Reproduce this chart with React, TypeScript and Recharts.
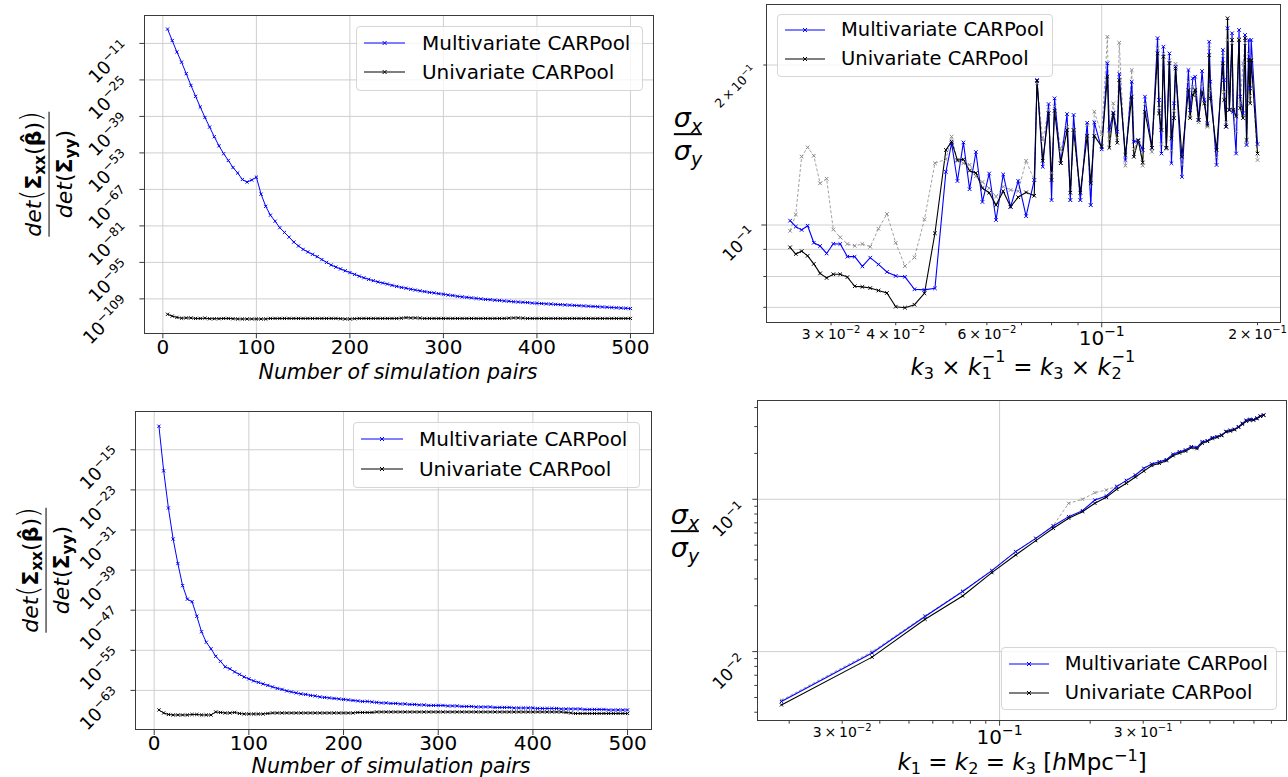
import React from 'react';
import { LineChart, Line, XAxis, YAxis, ReferenceLine } from 'recharts';

const FONT = '"DejaVu Sans", Verdana, sans-serif';
const PAGE_W = 1288;
const PAGE_H = 777;
const BLUE = '#0000ff';
const BLACK = '#000000';
const GRAY = '#8a8a8a';
const GRID = '#cfcfcf';
const SPINE = '#3a3a3a';
const MINUS = '\u2212';

// ---------------- data: left panels (x = number of simulation pairs) ----------------
const simulationPairs = [
  5, 10, 15, 20, 25, 30, 35, 40, 45, 50,
  55, 60, 65, 70, 75, 80, 85, 90, 95, 100,
  105, 110, 115, 120, 125, 130, 135, 140, 145, 150,
  155, 160, 165, 170, 175, 180, 185, 190, 195, 200,
  205, 210, 215, 220, 225, 230, 235, 240, 245, 250,
  255, 260, 265, 270, 275, 280, 285, 290, 295, 300,
  305, 310, 315, 320, 325, 330, 335, 340, 345, 350,
  355, 360, 365, 370, 375, 380, 385, 390, 395, 400,
  405, 410, 415, 420, 425, 430, 435, 440, 445, 450,
  455, 460, 465, 470, 475, 480, 485, 490, 495, 500,
];

// log10 of det ratio, top-left panel
const multiDetTop = [
  -5.5, -9.9, -14.3, -18.2, -22.6, -27.1, -31.3, -35.4, -39.4, -43.1,
  -46.8, -50.3, -53.3, -55.9, -58.6, -60.7, -63.2, -64.2, -63.4, -62.3,
  -68.8, -73.5, -76.9, -79.2, -81.7, -83.5, -85.3, -87.2, -88.7, -90.0,
  -91.0, -91.9, -92.8, -93.9, -95.0, -96.0, -96.8, -97.5, -98.2, -98.9,
  -99.6, -100.3, -100.9, -101.5, -102.0, -102.5, -102.9, -103.3, -103.8, -104.2,
  -104.6, -104.9, -105.3, -105.6, -105.9, -106.2, -106.5, -106.7, -107.0, -107.2,
  -107.5, -107.7, -108.0, -108.2, -108.4, -108.6, -108.8, -109.0, -109.2, -109.3,
  -109.5, -109.6, -109.8, -109.9, -110.1, -110.2, -110.3, -110.4, -110.6, -110.7,
  -110.8, -110.9, -111.0, -111.1, -111.2, -111.3, -111.4, -111.5, -111.6, -111.7,
  -111.8, -111.9, -112.0, -112.1, -112.2, -112.3, -112.4, -112.5, -112.6, -112.7,
];
const uniDetTop = [
  -114.9, -115.6, -116.1, -116.4, -116.3, -116.3, -116.5, -116.5, -116.4, -116.6,
  -116.6, -116.6, -116.5, -116.5, -116.6, -116.7, -116.7, -116.7, -116.7, -116.7,
  -116.7, -116.7, -116.5, -116.5, -116.5, -116.5, -116.5, -116.5, -116.5, -116.5,
  -116.5, -116.5, -116.5, -116.5, -116.5, -116.5, -116.5, -116.6, -116.7, -116.7,
  -116.6, -116.5, -116.5, -116.5, -116.5, -116.5, -116.5, -116.5, -116.5, -116.5,
  -116.4, -116.2, -116.3, -116.3, -116.4, -116.5, -116.5, -116.5, -116.5, -116.5,
  -116.5, -116.5, -116.5, -116.5, -116.5, -116.5, -116.5, -116.5, -116.5, -116.5,
  -116.5, -116.5, -116.5, -116.4, -116.3, -116.3, -116.4, -116.5, -116.5, -116.5,
  -116.5, -116.5, -116.5, -116.5, -116.5, -116.5, -116.5, -116.5, -116.5, -116.5,
  -116.5, -116.5, -116.5, -116.5, -116.5, -116.5, -116.5, -116.5, -116.5, -116.5,
];
const topYTicks = [-109, -95, -81, -67, -53, -39, -25, -11];

// log10 of det ratio, bottom-left panel
const multiDetBottom = [
  -10.3, -19.2, -26.6, -32.8, -37.7, -42.1, -44.8, -45.3, -48.2, -51.3,
  -53.4, -54.7, -56.2, -57.2, -58.3, -58.7, -59.3, -59.8, -60.3, -60.7,
  -61.1, -61.4, -61.7, -62.0, -62.3, -62.6, -62.8, -63.1, -63.3, -63.5,
  -63.7, -63.8, -64.0, -64.1, -64.3, -64.4, -64.5, -64.6, -64.7, -64.8,
  -64.9, -65.0, -65.1, -65.2, -65.2, -65.3, -65.4, -65.5, -65.5, -65.6,
  -65.6, -65.7, -65.7, -65.8, -65.8, -65.9, -65.9, -66.0, -66.0, -66.0,
  -66.0, -66.1, -66.1, -66.1, -66.2, -66.2, -66.2, -66.3, -66.3, -66.3,
  -66.3, -66.4, -66.4, -66.4, -66.4, -66.5, -66.5, -66.5, -66.5, -66.5,
  -66.6, -66.6, -66.6, -66.6, -66.6, -66.7, -66.7, -66.7, -66.7, -66.7,
  -66.8, -66.8, -66.8, -66.8, -66.8, -66.9, -66.9, -66.9, -66.9, -66.9,
];
const uniDetBottom = [
  -66.9, -67.5, -67.8, -67.9, -67.9, -67.9, -67.9, -67.8, -67.8, -67.9,
  -67.9, -67.9, -67.3, -67.4, -67.5, -67.5, -67.4, -67.6, -67.7, -67.7,
  -67.7, -67.7, -67.7, -67.6, -67.5, -67.5, -67.5, -67.5, -67.5, -67.5,
  -67.5, -67.5, -67.5, -67.5, -67.5, -67.5, -67.5, -67.5, -67.5, -67.5,
  -67.5, -67.5, -67.4, -67.4, -67.4, -67.4, -67.3, -67.3, -67.3, -67.3,
  -67.3, -67.3, -67.3, -67.3, -67.3, -67.3, -67.3, -67.3, -67.3, -67.3,
  -67.3, -67.3, -67.3, -67.3, -67.3, -67.3, -67.3, -67.3, -67.3, -67.3,
  -67.3, -67.3, -67.3, -67.3, -67.3, -67.3, -67.3, -67.3, -67.3, -67.3,
  -67.3, -67.3, -67.3, -67.3, -67.3, -67.3, -67.4, -67.5, -67.6, -67.6,
  -67.6, -67.6, -67.6, -67.6, -67.6, -67.6, -67.6, -67.6, -67.6, -67.6,
];
const bottomYTicks = [-63, -55, -47, -39, -31, -23, -15];
const pairTicks = [0, 100, 200, 300, 400, 500];

// ---------------- data: top-right panel (x = k3 / k1) ----------------
const ratioK = [
  0.025, 0.02564, 0.02632, 0.02703, 0.02778, 0.02857, 0.02941, 0.0303, 0.03125, 0.03226,
  0.03333, 0.03448, 0.03571, 0.03704, 0.03846, 0.04, 0.04167, 0.04348, 0.04545, 0.04762,
  0.05, 0.05128, 0.05263, 0.05405, 0.05556, 0.05714, 0.05882, 0.06061, 0.0625, 0.06452,
  0.06667, 0.06897, 0.07143, 0.07407, 0.075, 0.07692, 0.07895, 0.08, 0.08108, 0.08333,
  0.08571, 0.08696, 0.08824, 0.09091, 0.09375, 0.09524, 0.09677, 0.1, 0.10256, 0.10345,
  0.10526, 0.10714, 0.10811, 0.11111, 0.11429, 0.11538, 0.11765, 0.12, 0.12121, 0.125,
  0.12821, 0.12903, 0.13043, 0.13158, 0.13333, 0.13514, 0.13636, 0.13793, 0.13889, 0.14286,
  0.14706, 0.14815, 0.15, 0.15152, 0.15385, 0.15625, 0.15789, 0.16, 0.16129, 0.16216,
  0.16667, 0.17143, 0.17241, 0.17391, 0.175, 0.17647, 0.17857, 0.17949, 0.18182, 0.18421,
  0.18519, 0.1875, 0.18919, 0.19048, 0.19231, 0.19355, 0.19444, 0.2,
];
const multiRatio = [
  0.1019, 0.0993, 0.0979, 0.0997, 0.0926, 0.0913, 0.0884, 0.0922, 0.0921, 0.0872,
  0.0872, 0.0836, 0.0868, 0.0843, 0.0816, 0.0802, 0.0799, 0.0757, 0.0755, 0.0760,
  0.1259, 0.1425, 0.1210, 0.1430, 0.1168, 0.1372, 0.1105, 0.1250, 0.1022, 0.1245,
  0.1082, 0.1210, 0.1039, 0.1215, 0.1874, 0.1287, 0.1689, 0.1114, 0.1731, 0.1307,
  0.1617, 0.1114, 0.1611, 0.1114, 0.1557, 0.1090, 0.1560, 0.1388, 0.2015, 0.1509,
  0.1627, 0.1498, 0.1923, 0.1325, 0.1860, 0.1435, 0.1441, 0.1384, 0.1744, 0.1397,
  0.2247, 0.1719, 0.1363, 0.2165, 0.1397, 0.2103, 0.1307, 0.1694, 0.1985, 0.1232,
  0.1957, 0.1646, 0.1888, 0.1901, 0.1576, 0.1948, 0.1719, 0.1554, 0.2212, 0.1860,
  0.1297, 0.2135, 0.1874, 0.1531, 0.2345, 0.1646, 0.2295, 0.1633, 0.1363, 0.2328,
  0.1744, 0.1622, 0.2278, 0.1414, 0.2229, 0.1808, 0.2229, 0.1420,
];
const uniRatio = [
  0.0908, 0.0882, 0.0893, 0.0875, 0.0845, 0.0811, 0.0795, 0.0808, 0.0808, 0.0798,
  0.0767, 0.0765, 0.0761, 0.0753, 0.0745, 0.0702, 0.0699, 0.0708, 0.0744, 0.0965,
  0.1384, 0.1435, 0.1325, 0.1329, 0.1265, 0.1253, 0.1173, 0.1150, 0.1090, 0.1158,
  0.1082, 0.1128, 0.1152, 0.1135, 0.1866, 0.1321, 0.1622, 0.1215, 0.1640, 0.1307,
  0.1509, 0.1150, 0.1509, 0.1150, 0.1471, 0.1198, 0.1471, 0.1404, 0.1901, 0.1397,
  0.1622, 0.1428, 0.1874, 0.1354, 0.1744, 0.1344, 0.1445, 0.1311, 0.1633, 0.1397,
  0.2103, 0.1622, 0.1509, 0.2073, 0.1397, 0.2016, 0.1455, 0.1589, 0.1970, 0.1344,
  0.1795, 0.1589, 0.1757, 0.1795, 0.1576, 0.1782, 0.1694, 0.1542, 0.2088, 0.1731,
  0.1384, 0.2015, 0.1719, 0.1531, 0.2449, 0.1646, 0.2229, 0.1646, 0.1601, 0.2229,
  0.1660, 0.1589, 0.2247, 0.1445, 0.2044, 0.1694, 0.2044, 0.1363,
];
const refRatio = [
  0.0975, 0.1047, 0.1345, 0.1400, 0.1350, 0.1198, 0.1222, 0.0981, 0.0948, 0.0921,
  0.0914, 0.0921, 0.0910, 0.0984, 0.1049, 0.0926, 0.0837, 0.0869, 0.1025, 0.1307,
  0.1329, 0.1467, 0.1320, 0.1307, 0.1298, 0.1235, 0.1205, 0.1173, 0.1131, 0.1181,
  0.1164, 0.1158, 0.1321, 0.1215, 0.1847, 0.1445, 0.1646, 0.1253, 0.1672, 0.1384,
  0.1531, 0.1114, 0.1509, 0.1114, 0.1544, 0.1090, 0.1633, 0.1481, 0.2260, 0.1450,
  0.1694, 0.1460, 0.2203, 0.1293, 0.1957, 0.1390, 0.1440, 0.1293, 0.1690, 0.1373,
  0.2150, 0.1660, 0.1420, 0.2100, 0.1390, 0.2040, 0.1380, 0.1640, 0.2010, 0.1300,
  0.1860, 0.1600, 0.1820, 0.1760, 0.1560, 0.1840, 0.1700, 0.1530, 0.2150, 0.1790,
  0.1340, 0.2080, 0.1780, 0.1560, 0.2229, 0.1650, 0.2200, 0.1640, 0.1500, 0.2240,
  0.1700, 0.2015, 0.2200, 0.1420, 0.2100, 0.1750, 0.2050, 0.1325,
];
const ratioXTicks = [0.03, 0.04, 0.05, 0.06, 0.07, 0.08, 0.09, 0.1, 0.2];
const ratioXLabels: Record<string, [string, string]> = {
  '0.03': ['3\u2009×\u200910', MINUS + '2'],
  '0.04': ['4\u2009×\u200910', MINUS + '2'],
  '0.06': ['6\u2009×\u200910', MINUS + '2'],
  '0.1': ['10', MINUS + '1'],
  '0.2': ['2\u2009×\u200910', MINUS + '1'],
};
const ratioYTicks = [0.07, 0.08, 0.09, 0.1, 0.2];
const ratioYLabels: Record<string, [string, string]> = {
  '0.1': ['10', MINUS + '1'],
  '0.2': ['2\u2009×\u200910', MINUS + '1'],
};

// ---------------- data: bottom-right panel (equilateral k) ----------------
const eqK = [
  0.01885, 0.0377, 0.05655, 0.0754, 0.09425, 0.1131, 0.13195, 0.1508, 0.16965, 0.1885,
  0.20735, 0.2262, 0.24504, 0.26389, 0.28274, 0.30159, 0.32044, 0.33929, 0.35814, 0.37699,
  0.39584, 0.41469, 0.43354, 0.45239, 0.47124, 0.49009, 0.50894, 0.52779, 0.54664, 0.56549,
  0.58434, 0.60319, 0.62204, 0.64088, 0.65973, 0.67858, 0.69743, 0.71628, 0.73513, 0.75398,
];
const multiEq = [
  0.0047, 0.0098, 0.0170, 0.0248, 0.0340, 0.0453, 0.0554, 0.0668, 0.0769, 0.0842,
  0.0989, 0.1052, 0.1211, 0.1330, 0.1443, 0.1597, 0.1704, 0.1765, 0.1820, 0.1974,
  0.2052, 0.2106, 0.2214, 0.2193, 0.2388, 0.2424, 0.2540, 0.2580, 0.2642, 0.2790,
  0.2840, 0.2880, 0.2995, 0.3152, 0.3300, 0.3350, 0.3330, 0.3420, 0.3520, 0.3573,
];
const uniEq = [
  0.00447, 0.0092, 0.0163, 0.0232, 0.0330, 0.0431, 0.0535, 0.0645, 0.0751, 0.0829,
  0.0941, 0.1030, 0.1163, 0.1273, 0.1400, 0.1530, 0.1665, 0.1720, 0.1790, 0.1930,
  0.2010, 0.2070, 0.2180, 0.2150, 0.2330, 0.2400, 0.2500, 0.2550, 0.2620, 0.2770,
  0.2800, 0.2860, 0.2970, 0.3110, 0.3250, 0.3300, 0.3310, 0.3380, 0.3500, 0.3560,
];
const refEq = [
  0.0048, 0.0100, 0.0172, 0.0250, 0.0342, 0.0455, 0.0556, 0.0672, 0.0941, 0.1000,
  0.1105, 0.1150, 0.1220, 0.1320, 0.1440, 0.1590, 0.1700, 0.1760, 0.1820, 0.1970,
  0.2050, 0.2100, 0.2210, 0.2190, 0.2380, 0.2420, 0.2530, 0.2570, 0.2640, 0.2790,
  0.2840, 0.2880, 0.2990, 0.3150, 0.3290, 0.3340, 0.3330, 0.3410, 0.3510, 0.3570,
];
const eqXTicks = [0.02, 0.03, 0.04, 0.05, 0.06, 0.07, 0.08, 0.09, 0.1, 0.2, 0.3, 0.4, 0.5, 0.6, 0.7, 0.8];
const eqXLabels: Record<string, [string, string]> = {
  '0.03': ['3\u2009×\u200910', MINUS + '2'],
  '0.1': ['10', MINUS + '1'],
  '0.3': ['3\u2009×\u200910', MINUS + '1'],
};
const eqYTicks = [0.004, 0.005, 0.006, 0.007, 0.008, 0.009, 0.01, 0.02, 0.03, 0.04, 0.05, 0.06, 0.07, 0.08, 0.09, 0.1, 0.2, 0.3, 0.4];
const eqYLabels: Record<string, [string, string]> = {
  '0.01': ['10', MINUS + '2'],
  '0.1': ['10', MINUS + '1'],
};

const legendItems = [
  { name: 'Multivariate CARPool', color: BLUE },
  { name: 'Univariate CARPool', color: BLACK },
];

// ---------------- layout ----------------
type Box = { l: number; t: number; r: number; b: number };
const BOX1: Box = { l: 144.4, t: 15, r: 653.6, b: 333.3 };
const BOX2: Box = { l: 766.3, t: 4, r: 1281, b: 322.3 };
const BOX3: Box = { l: 135.5, t: 411.7, r: 651, b: 730 };
const BOX4: Box = { l: 757.3, t: 400.7, r: 1286.8, b: 720.7 };
const AXW = 40;
const AXH = 30;
const marginFor = (b: Box) => ({ top: b.t, left: b.l - AXW, right: PAGE_W - b.r, bottom: PAGE_H - b.b - AXH });

// ---------------- helpers ----------------
const crossDot = (color: string, s = 2.1) => (p: any) => {
  const { cx, cy, index } = p;
  if (cx == null || cy == null || isNaN(cx) || isNaN(cy)) return <g key={`e${index}`} />;
  return (
    <path
      key={`c${index}`}
      d={`M${cx - s} ${cy - s}L${cx + s} ${cy + s}M${cx - s} ${cy + s}L${cx + s} ${cy - s}`}
      stroke={color}
      strokeWidth={1}
      fill="none"
    />
  );
};

const linearXTick = (axisY: number, off: number) => (p: any) => {
  const { x, payload } = p;
  return (
    <g>
      <line x1={x} x2={x} y1={axisY} y2={axisY + 5} stroke={SPINE} strokeWidth={1} />
      <text x={x} y={axisY + off} textAnchor="middle" fontFamily={FONT} fontSize={20} fill="#000">
        {payload.value}
      </text>
    </g>
  );
};

const expYTick = (axisX: number) => (p: any) => {
  const { y, payload } = p;
  const ax = axisX - 13.5;
  const ay = y + 6;
  return (
    <g>
      <line x1={axisX - 5} x2={axisX} y1={y} y2={y} stroke={SPINE} strokeWidth={1} />
      <text x={ax} y={ay} textAnchor="end" transform={`rotate(-45 ${ax} ${ay})`} fontFamily={FONT} fontSize={18} fill="#000">
        10<tspan dy={-7.5} fontSize={12.5}>{MINUS + Math.abs(payload.value)}</tspan>
      </text>
    </g>
  );
};

const isMajor = (v: number) => Math.abs(Math.log10(v) - Math.round(Math.log10(v))) < 1e-6;

const logXTick = (axisY: number, labels: Record<string, [string, string]>) => (p: any) => {
  const { x, payload } = p;
  const v = payload.value;
  const major = isMajor(v);
  const lab = labels[String(v)];
  return (
    <g>
      <line x1={x} x2={x} y1={axisY} y2={axisY + (major ? 5 : 3)} stroke={SPINE} strokeWidth={1} />
      {lab ? (
        <text x={x} y={axisY + (major ? 23 : 16.5)} textAnchor="middle" fontFamily={FONT} fontSize={major ? 20 : 14} fill="#000">
          {lab[0]}
          <tspan dy={major ? -9 : -6} fontSize={major ? 14 : 10}>{lab[1]}</tspan>
        </text>
      ) : null}
    </g>
  );
};

const logYTick = (axisX: number, labels: Record<string, [string, string]>, majOff: [number, number], minOff: [number, number]) => (p: any) => {
  const { y, payload } = p;
  const v = payload.value;
  const major = isMajor(v);
  const lab = labels[String(v)];
  const off = major ? majOff : minOff;
  const ax = axisX + off[0];
  const ay = y + off[1];
  return (
    <g>
      <line x1={axisX - (major ? 5 : 3)} x2={axisX} y1={y} y2={y} stroke={SPINE} strokeWidth={1} />
      {lab ? (
        <text x={ax} y={ay} textAnchor="end" transform={`rotate(-45 ${ax} ${ay})`} fontFamily={FONT} fontSize={major ? 17 : 12.5} fill="#000">
          {lab[0]}
          <tspan dy={major ? -7 : -5.5} fontSize={major ? 12 : 9}>{lab[1]}</tspan>
        </text>
      ) : null}
    </g>
  );
};

const Frame = ({ b }: { b: Box }) => (
  <div
    style={{
      position: 'absolute',
      left: b.l - 0.5,
      top: b.t - 0.5,
      width: b.r - b.l + 1,
      height: b.b - b.t + 1,
      border: `1px solid ${SPINE}`,
      boxSizing: 'border-box',
      pointerEvents: 'none',
    }}
  />
);

const Sub = ({ children }: any) => (
  <span style={{ fontSize: '0.7em', verticalAlign: '-0.3em', lineHeight: 0 }}>{children}</span>
);
const Sup = ({ children }: any) => (
  <span style={{ fontSize: '0.7em', verticalAlign: '0.55em', lineHeight: 0 }}>{children}</span>
);

// stacked superscript / subscript (same horizontal position)
const SubSup = ({ sub, sup }: any) => (
  <span style={{ position: 'relative', display: 'inline-block', width: '1.08em', height: '0.7em' }}>
    <span style={{ position: 'absolute', left: '0.04em', bottom: '0.62em', fontSize: '0.7em', lineHeight: 1 }}>{sup}</span>
    <span style={{ position: 'absolute', left: '0.04em', bottom: '-0.42em', fontSize: '0.7em', lineHeight: 1 }}>{sub}</span>
  </span>
);

const DetLabel = ({ cx, cy }: { cx: number; cy: number }) => (
  <div
    style={{
      position: 'absolute',
      left: cx,
      top: cy,
      transform: 'translate(-50%, -50%) rotate(-90deg)',
      fontFamily: FONT,
      fontSize: 22,
      lineHeight: 1.15,
      display: 'flex',
      flexDirection: 'column',
      alignItems: 'center',
      whiteSpace: 'nowrap',
      color: '#000',
    }}
  >
    <div>
      <i>det</i>
      <span style={{ fontSize: '1.25em', fontWeight: 300 }}>(</span>
      <b>Σ</b>
      <Sub>
        <b>xx</b>
      </Sub>
      (<b>β̂</b>)
      <span style={{ fontSize: '1.25em', fontWeight: 300 }}>)</span>
    </div>
    <div style={{ alignSelf: 'stretch', borderTop: '1.6px solid #000', margin: '1px 0 2px' }} />
    <div>
      <i>det</i>(<b>Σ</b>
      <Sub>
        <b>yy</b>
      </Sub>
      )
    </div>
  </div>
);

const SigmaLabel = ({ cx, cy }: { cx: number; cy: number }) => (
  <div
    style={{
      position: 'absolute',
      left: cx,
      top: cy,
      transform: 'translate(-50%, -50%)',
      fontFamily: FONT,
      fontSize: 27,
      lineHeight: 1.05,
      display: 'flex',
      flexDirection: 'column',
      alignItems: 'center',
      whiteSpace: 'nowrap',
      color: '#000',
    }}
  >
    <div>
      <i>σ</i>
      <Sub>
        <i>x</i>
      </Sub>
    </div>
    <div style={{ alignSelf: 'stretch', borderTop: '2px solid #000', margin: '1px 0 2px' }} />
    <div>
      <i>σ</i>
      <Sub>
        <i>y</i>
      </Sub>
    </div>
  </div>
);

const TextAt = ({ cx, cy, size, children, italic }: any) => (
  <div
    style={{
      position: 'absolute',
      left: cx,
      top: cy,
      transform: 'translate(-50%, -50%)',
      fontFamily: FONT,
      fontSize: size,
      fontStyle: italic ? 'italic' : 'normal',
      lineHeight: 1,
      whiteSpace: 'nowrap',
      color: '#000',
    }}
  >
    {children}
  </div>
);

const LegendBox = ({ left, top, width, height, rows, lineX1, lineX2, textX, fontSize }: any) => (
  <div
    style={{
      position: 'absolute',
      left,
      top,
      width,
      height,
      boxSizing: 'border-box',
      border: '1px solid #d6d6d6',
      borderRadius: 4,
      background: 'rgba(255,255,255,0.8)',
    }}
  >
    {legendItems.map((it, i) => {
      const w = lineX2 - lineX1;
      const c = w / 2;
      return (
        <React.Fragment key={it.name}>
          <svg style={{ position: 'absolute', left: lineX1, top: rows[i] - 4 }} width={w} height={8}>
            <line x1={0} x2={w} y1={4} y2={4} stroke={it.color} strokeWidth={1.2} />
            <path d={`M${c - 2} 2L${c + 2} 6M${c - 2} 6L${c + 2} 2`} stroke={it.color} strokeWidth={1} />
          </svg>
          <div
            style={{
              position: 'absolute',
              left: textX,
              top: rows[i],
              transform: 'translateY(-52%)',
              fontFamily: FONT,
              fontSize,
              lineHeight: 1,
              whiteSpace: 'nowrap',
              color: '#000',
            }}
          >
            {it.name}
          </div>
        </React.Fragment>
      );
    })}
  </div>
);

// ---------------- tables built from arrays ----------------
const topRows = simulationPairs.map((n, i) => ({ n, multi: multiDetTop[i], uni: uniDetTop[i] }));
const bottomRows = simulationPairs.map((n, i) => ({ n, multi: multiDetBottom[i], uni: uniDetBottom[i] }));
const ratioRows = ratioK.map((k, i) => ({ k, multi: multiRatio[i], uni: uniRatio[i], ref: refRatio[i] }));
const eqRows = eqK.map((k, i) => ({ k, multi: multiEq[i], uni: uniEq[i], ref: refEq[i] }));

const layer: React.CSSProperties = { position: 'absolute', left: 0, top: 0 };

export default function App() {
  return (
    <div style={{ position: 'absolute', left: 0, top: 0, width: PAGE_W, height: PAGE_H, background: '#fff', overflow: 'hidden' }}>
      {/* ---------- Panel 1: top-left ---------- */}
      <div style={layer}>
        <LineChart width={PAGE_W} height={PAGE_H} data={topRows} margin={marginFor(BOX1)}>
          <XAxis
            dataKey="n"
            type="number"
            domain={[-19.75, 524.75]}
            ticks={pairTicks}
            interval={0}
            allowDataOverflow
            height={AXH}
            axisLine={false}
            tickLine={false}
            tick={linearXTick(BOX1.b, 21)}
          />
          <YAxis
            type="number"
            domain={[-122.2, -0.1]}
            ticks={topYTicks}
            interval={0}
            allowDataOverflow
            width={AXW}
            axisLine={false}
            tickLine={false}
            tick={expYTick(BOX1.l)}
          />
          {pairTicks.map((t) => (
            <ReferenceLine key={`gx${t}`} x={t} stroke={GRID} strokeWidth={1} />
          ))}
          {topYTicks.map((t) => (
            <ReferenceLine key={`gy${t}`} y={t} stroke={GRID} strokeWidth={1} />
          ))}
          <Line dataKey="multi" stroke={BLUE} strokeWidth={1} dot={crossDot(BLUE, 1.6)} activeDot={false} isAnimationActive={false} />
          <Line dataKey="uni" stroke={BLACK} strokeWidth={1} dot={crossDot(BLACK, 1.6)} activeDot={false} isAnimationActive={false} />
        </LineChart>
      </div>

      {/* ---------- Panel 3: bottom-left ---------- */}
      <div style={layer}>
        <LineChart width={PAGE_W} height={PAGE_H} data={bottomRows} margin={marginFor(BOX3)}>
          <XAxis
            dataKey="n"
            type="number"
            domain={[-19.75, 524.75]}
            ticks={pairTicks}
            interval={0}
            allowDataOverflow
            height={AXH}
            axisLine={false}
            tickLine={false}
            tick={linearXTick(BOX3.b, 19.5)}
          />
          <YAxis
            type="number"
            domain={[-70.9, -7.4]}
            ticks={bottomYTicks}
            interval={0}
            allowDataOverflow
            width={AXW}
            axisLine={false}
            tickLine={false}
            tick={expYTick(BOX3.l)}
          />
          {pairTicks.map((t) => (
            <ReferenceLine key={`gx${t}`} x={t} stroke={GRID} strokeWidth={1} />
          ))}
          {bottomYTicks.map((t) => (
            <ReferenceLine key={`gy${t}`} y={t} stroke={GRID} strokeWidth={1} />
          ))}
          <Line dataKey="multi" stroke={BLUE} strokeWidth={1} dot={crossDot(BLUE, 1.6)} activeDot={false} isAnimationActive={false} />
          <Line dataKey="uni" stroke={BLACK} strokeWidth={1} dot={crossDot(BLACK, 1.6)} activeDot={false} isAnimationActive={false} />
        </LineChart>
      </div>

      {/* ---------- Panel 2: top-right ---------- */}
      <div style={layer}>
        <LineChart width={PAGE_W} height={PAGE_H} data={ratioRows} margin={marginFor(BOX2)}>
          <XAxis
            dataKey="k"
            type="number"
            scale="log"
            domain={[0.02249, 0.222]}
            ticks={ratioXTicks}
            interval={0}
            allowDataOverflow
            height={AXH}
            axisLine={false}
            tickLine={false}
            tick={logXTick(BOX2.b, ratioXLabels)}
          />
          <YAxis
            type="number"
            scale="log"
            domain={[0.06561, 0.2605]}
            ticks={ratioYTicks}
            interval={0}
            allowDataOverflow
            width={AXW}
            axisLine={false}
            tickLine={false}
            tick={logYTick(BOX2.l, ratioYLabels, [-9, 9.5], [-9, 6.5])}
          />
          <ReferenceLine x={0.1} stroke={GRID} strokeWidth={1} />
          {ratioYTicks.map((t) => (
            <ReferenceLine key={`gy${t}`} y={t} stroke={GRID} strokeWidth={1} />
          ))}
          <Line dataKey="ref" stroke={GRAY} strokeOpacity={0.8} strokeWidth={1} strokeDasharray="3 2" dot={crossDot(GRAY, 1.8)} activeDot={false} isAnimationActive={false} />
          <Line dataKey="multi" stroke={BLUE} strokeWidth={1.1} dot={crossDot(BLUE, 1.8)} activeDot={false} isAnimationActive={false} />
          <Line dataKey="uni" stroke={BLACK} strokeWidth={1.1} dot={crossDot(BLACK, 1.8)} activeDot={false} isAnimationActive={false} />
        </LineChart>
      </div>

      {/* ---------- Panel 4: bottom-right ---------- */}
      <div style={layer}>
        <LineChart width={PAGE_W} height={PAGE_H} data={eqRows} margin={marginFor(BOX4)}>
          <XAxis
            dataKey="k"
            type="number"
            scale="log"
            domain={[0.01567, 0.9]}
            ticks={eqXTicks}
            interval={0}
            allowDataOverflow
            height={AXH}
            axisLine={false}
            tickLine={false}
            tick={logXTick(BOX4.b, eqXLabels)}
          />
          <YAxis
            type="number"
            scale="log"
            domain={[0.00352, 0.4436]}
            ticks={eqYTicks}
            interval={0}
            allowDataOverflow
            width={AXW}
            axisLine={false}
            tickLine={false}
            tick={logYTick(BOX4.l, eqYLabels, [-10, 11], [-9, 6.5])}
          />
          <ReferenceLine x={0.1} stroke={GRID} strokeWidth={1} />
          <ReferenceLine y={0.1} stroke={GRID} strokeWidth={1} />
          <ReferenceLine y={0.01} stroke={GRID} strokeWidth={1} />
          <Line dataKey="ref" stroke={GRAY} strokeOpacity={0.8} strokeWidth={1} strokeDasharray="3 2" dot={crossDot(GRAY, 1.6)} activeDot={false} isAnimationActive={false} />
          <Line dataKey="multi" stroke={BLUE} strokeWidth={1.1} dot={crossDot(BLUE, 1.6)} activeDot={false} isAnimationActive={false} />
          <Line dataKey="uni" stroke={BLACK} strokeWidth={1.1} dot={crossDot(BLACK, 1.6)} activeDot={false} isAnimationActive={false} />
        </LineChart>
      </div>

      {/* frames */}
      <Frame b={BOX1} />
      <Frame b={BOX2} />
      <Frame b={BOX3} />
      <Frame b={BOX4} />

      {/* legends */}
      <LegendBox left={355.6} top={25.7} width={287} height={65.3} rows={[16, 45.3]} lineX1={7.2} lineX2={48.4} textX={65.4} fontSize={20} />
      <LegendBox left={352.7} top={421.7} width={287} height={66.6} rows={[16, 46]} lineX1={7.3} lineX2={49.3} textX={65.3} fontSize={20} />
      <LegendBox left={776.5} top={14} width={276} height={63} rows={[15.3, 44.3]} lineX1={7.5} lineX2={47.5} textX={63.5} fontSize={19.5} />
      <LegendBox left={1000.8} top={647.3} width={276} height={62.7} rows={[16, 44.4]} lineX1={7.6} lineX2={47.6} textX={62.9} fontSize={19.5} />

      {/* axis titles */}
      <DetLabel cx={46} cy={174} />
      <DetLabel cx={43} cy={570} />
      <SigmaLabel cx={688} cy={135} />
      <SigmaLabel cx={685} cy={532} />
      <TextAt cx={398} cy={372} size={20.5} italic>
        Number of simulation pairs
      </TextAt>
      <TextAt cx={391} cy={765.6} size={20.5} italic>
        Number of simulation pairs
      </TextAt>
      <TextAt cx={1023} cy={367} size={23}>
        <i>k</i>
        <Sub>3</Sub> × <i>k</i>
        <SubSup sub="1" sup={MINUS + '1'} /> = <i>k</i>
        <Sub>3</Sub> × <i>k</i>
        <SubSup sub="2" sup={MINUS + '1'} />
      </TextAt>
      <TextAt cx={1022} cy={762} size={23}>
        <i>k</i>
        <Sub>1</Sub> = <i>k</i>
        <Sub>2</Sub> = <i>k</i>
        <Sub>3</Sub> [<i>h</i>Mpc<Sup>{MINUS + '1'}</Sup>]
      </TextAt>
    </div>
  );
}
